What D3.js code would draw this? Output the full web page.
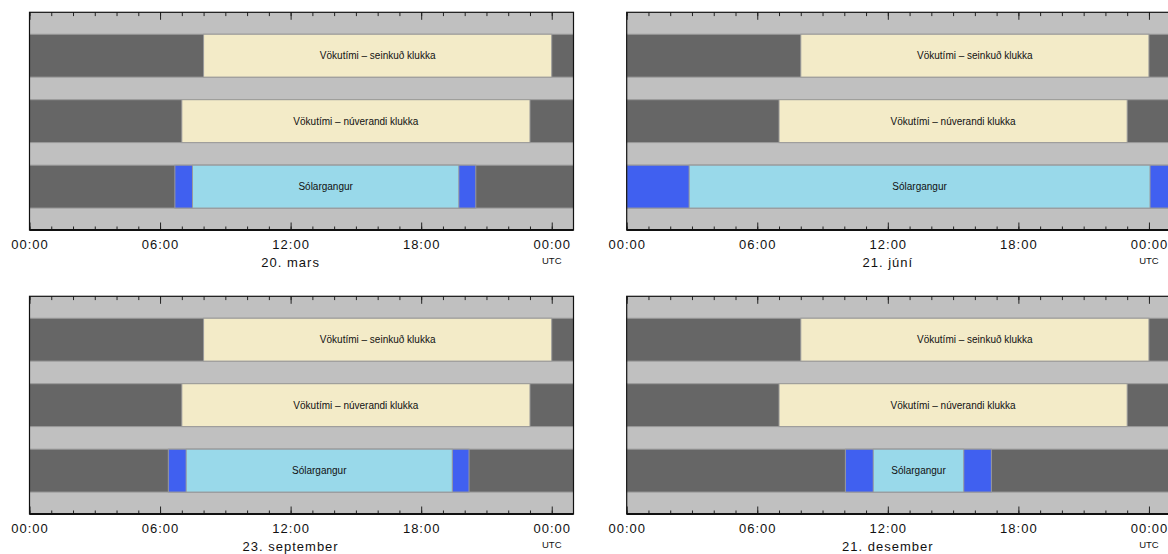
<!DOCTYPE html>
<html>
<head>
<meta charset="utf-8">
<script src="https://cdn.jsdelivr.net/npm/d3@7"></script>
<style>
  html, body { margin: 0; padding: 0; background: #fff; overflow: hidden; }
  svg { display: block; font-family: "Liberation Sans", Arial, Helvetica, sans-serif; }
</style>
</head>
<body>
<svg id="chart" width="1168" height="554"></svg>
<script>
// Day labels for the four panels (solstices and equinoxes, Reykjavík)
const panelDates = ["20. mars", "21. júní", "23. september", "21. desember"];
// Row names, top to bottom
const rowLabels = ["Vökutími – seinkuð klukka", "Vökutími – núverandi klukka", "Sólargangur"];
// Waking hours (UTC hours), same every day
const wakeDelayed = [8, 24];
const wakeCurrent = [7, 23];
// Civil twilight and daylight (UTC hours) per panel
const civilDawn = [6.68, 0, 6.38, 10.05];
const sunrise   = [7.49, 2.87, 7.20, 11.33];
const sunset    = [19.73, 24.05, 19.43, 15.49];
const civilDusk = [20.51, 25, 20.20, 16.76];
// Axis
const majorHours = [0, 6, 12, 18, 24];
const tickLabels = ["00:00", "06:00", "12:00", "18:00", "00:00"];
const minorHours = d3.range(0, 25);
const hourDomain = [0, 25];

const colors = {
  bg: "#c0c0c0", night: "#666666", wake: "#f3ebc8",
  twilight: "#4060f0", day: "#99d9ea", edge: "#9a9a9a"
};

const svg = d3.select("#chart");
const panelW = 544, panelH = 217.7;
const origins = [
  { x: 29.5, y: 12.3 }, { x: 626.7, y: 12.3 },
  { x: 29.5, y: 296.3 }, { x: 626.7, y: 296.3 }
];

const x = d3.scaleLinear().domain(hourDomain).range([0, panelW]);
const y = d3.scaleBand().domain(d3.range(rowLabels.length)).range([0, panelH])
  .paddingInner(0.345).paddingOuter(0.335);

panelDates.forEach((dateLabel, i) => {
  const g = svg.append("g").attr("transform", `translate(${origins[i].x},${origins[i].y})`);

  g.append("rect").attr("width", panelW).attr("height", panelH).attr("fill", colors.bg);

  const segments = [
    { row: 0, from: hourDomain[0], to: hourDomain[1], fill: colors.night },
    { row: 0, from: wakeDelayed[0], to: wakeDelayed[1], fill: colors.wake, label: rowLabels[0] },
    { row: 1, from: hourDomain[0], to: hourDomain[1], fill: colors.night },
    { row: 1, from: wakeCurrent[0], to: wakeCurrent[1], fill: colors.wake, label: rowLabels[1] },
    { row: 2, from: hourDomain[0], to: hourDomain[1], fill: colors.night },
    { row: 2, from: civilDawn[i], to: civilDusk[i], fill: colors.twilight },
    { row: 2, from: sunrise[i], to: sunset[i], fill: colors.day, label: rowLabels[2] }
  ];

  g.selectAll("rect.seg").data(segments).join("rect")
    .attr("class", "seg")
    .attr("x", d => x(d.from))
    .attr("width", d => Math.max(0, x(d.to) - x(d.from)))
    .attr("y", d => y(d.row))
    .attr("height", y.bandwidth())
    .attr("fill", d => d.fill)
    .attr("stroke", colors.edge)
    .attr("stroke-width", 1);

  g.selectAll("text.seglabel").data(segments.filter(d => d.label)).join("text")
    .attr("class", "seglabel")
    .attr("x", d => x((d.from + d.to) / 2))
    .attr("y", d => y(d.row) + y.bandwidth() / 2 + 3.6)
    .attr("text-anchor", "middle")
    .attr("font-size", 10)
    .attr("fill", "#111")
    .text(d => d.label);

  // Inward ticks along the top edge
  const topMinor = d3.axisTop(x).tickValues(minorHours).tickSize(-3.8).tickFormat("");
  const topMajor = d3.axisTop(x).tickValues(majorHours).tickSize(-7.5).tickFormat("");
  // Inward ticks along the bottom edge, labelled below
  const botMinor = d3.axisBottom(x).tickValues(minorHours).tickSize(-3.5).tickFormat("");
  const botMajor = d3.axisBottom(x).tickValues(majorHours).tickSize(-7.5)
    .tickPadding(9.4).tickFormat((d, k) => tickLabels[k]);

  [topMinor, topMajor].forEach(ax => {
    g.append("g").call(ax).call(s => s.select(".domain").remove())
      .selectAll("line").attr("stroke", "#222");
  });
  [botMinor, botMajor].forEach(ax => {
    g.append("g").attr("transform", `translate(0,${panelH})`).call(ax)
      .call(s => s.select(".domain").remove())
      .call(s => s.selectAll("line").attr("stroke", "#222"))
      .call(s => s.selectAll("text")
        .attr("font-family", "Liberation Sans, Arial, sans-serif")
        .attr("font-size", 13).attr("letter-spacing", 1).attr("fill", "#111"));
  });

  // Frame and heavier baseline
  g.append("rect").attr("width", panelW).attr("height", panelH)
    .attr("fill", "none").attr("stroke", "#111").attr("stroke-width", 1.2);
  g.append("line").attr("x1", 0).attr("x2", panelW).attr("y1", panelH).attr("y2", panelH)
    .attr("stroke", "#111").attr("stroke-width", 2);

  g.append("text")
    .attr("x", x(12)).attr("y", panelH + 36.7)
    .attr("text-anchor", "middle").attr("font-size", 13).attr("letter-spacing", 1)
    .attr("fill", "#111").text(dateLabel);

  g.append("text")
    .attr("x", x(24)).attr("y", panelH + 34)
    .attr("text-anchor", "middle").attr("font-size", 9.5)
    .attr("fill", "#111").text("UTC");
});
</script>
</body>
</html>
